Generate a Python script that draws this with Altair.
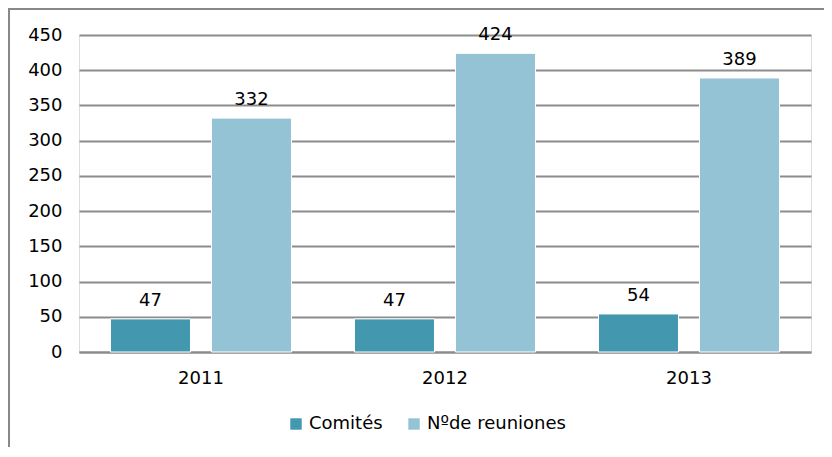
import altair as alt
import pandas as pd

years = ["2011", "2012", "2013"]
series = ["Comités", "Nºde reuniones"]
comites = [47, 47, 54]
reuniones = [332, 424, 389]
colors = ["#4398B0", "#93C3D5"]

rows = []
for i, y in enumerate(years):
    rows.append({"year": y, "serie": series[0], "value": comites[i]})
    rows.append({"year": y, "serie": series[1], "value": reuniones[i]})
df = pd.DataFrame(rows)

FONT = "DejaVu Sans"
FS = 18

x = alt.X("year:N", title=None, sort=years,
          scale=alt.Scale(paddingInner=0, paddingOuter=0),
          axis=alt.Axis(labelAngle=0, labelFontSize=FS, labelFont=FONT, labelColor="#000",
                        labelPadding=17, ticks=False, grid=False, domainColor="#8C8C8C",
                        domainWidth=2))
xoff = alt.XOffset("serie:N", sort=series,
                   scale=alt.Scale(paddingInner=0.208, paddingOuter=0.312))
y = alt.Y("value:Q", title=None,
          scale=alt.Scale(domain=[0, 450], nice=False),
          axis=alt.Axis(values=list(range(0, 451, 50)), labelFontSize=FS, labelFont=FONT,
                        labelColor="#000", labelPadding=17, ticks=False, domain=False,
                        labelOverlap=False, gridColor="#8C8C8C", gridWidth=2))

base = alt.Chart(df).encode(x=x, xOffset=xoff, y=y)
bars = base.mark_bar(stroke="white", strokeWidth=1).encode(
    color=alt.Color("serie:N", sort=series,
                    scale=alt.Scale(domain=series, range=colors),
                    legend=alt.Legend(title=None, orient="none", legendX=208, legendY=380,
                                      direction="horizontal", symbolType="square",
                                      symbolSize=130, symbolStrokeWidth=0, labelFontSize=FS,
                                      labelFont=FONT, labelColor="#000", columnPadding=22,
                                      labelOffset=4, labelLimit=300)),
)
labels = base.mark_text(baseline="alphabetic", dy=-13, fontSize=FS, font=FONT, color="#000").encode(
    text="value:Q",
)
border = alt.Chart(pd.DataFrame({"a": [0]})).mark_rect(
    fillOpacity=0, stroke="#888888", strokeWidth=2
).encode(x=alt.value(-70), x2=alt.value(800), y=alt.value(-26), y2=alt.value(440))

chart = alt.layer(border, bars, labels).properties(
    width=732, height=317,
    autosize=alt.AutoSizeParams(type="none"),
    padding={"left": 71, "top": 27, "right": 13, "bottom": 95},
).configure_view(strokeWidth=0, stroke="transparent"
).configure_axisY(domain=False, ticks=False
).configure_axisX(grid=False
).configure(background="white")

chart.save("out.html", embed_options={"renderer": "svg", "actions": False})
